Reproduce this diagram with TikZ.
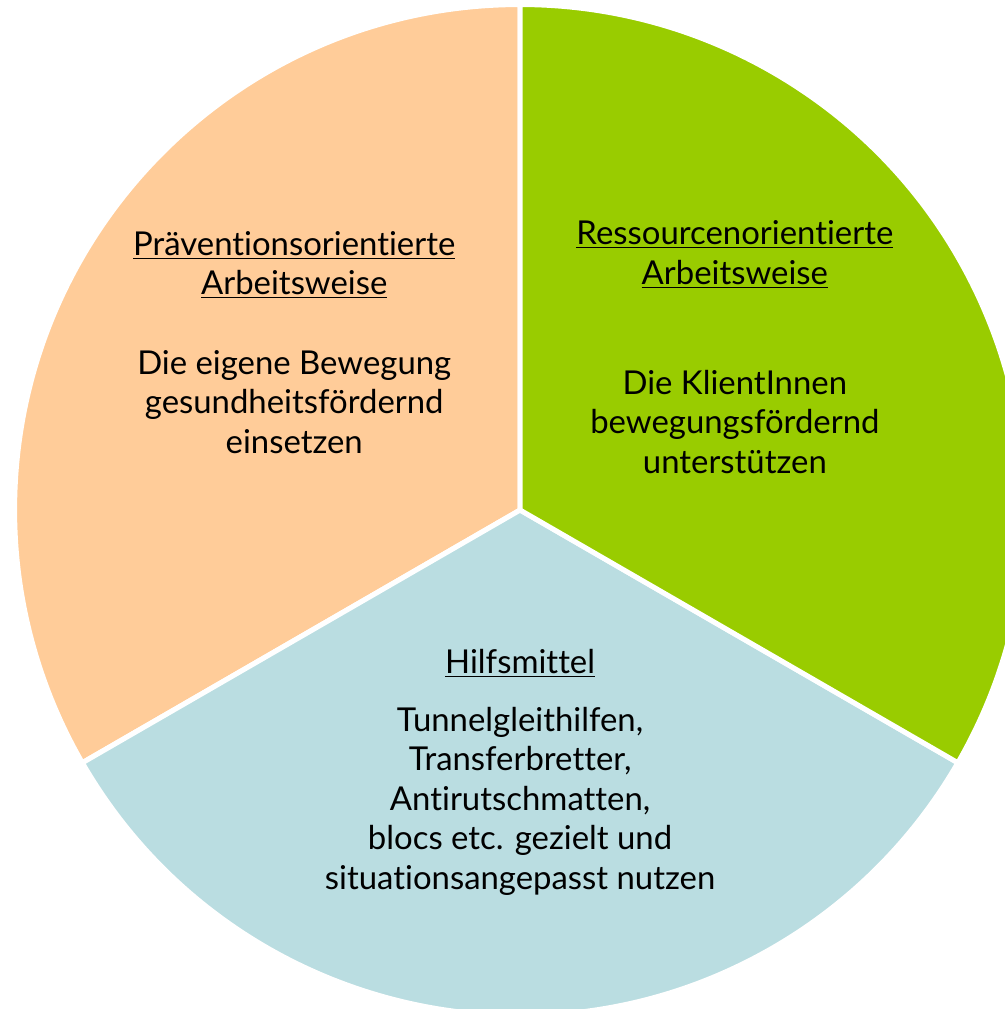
\documentclass[tikz,border=0pt]{standalone}
\usepackage{fontspec}
\setmainfont{Lato}[Ligatures={NoCommon}]
\definecolor{praev}{HTML}{FFCC99}
\definecolor{ressource}{HTML}{99CC00}
\definecolor{hilfe}{HTML}{BADDE1}
\begin{document}
\begin{tikzpicture}
                    \tikzset{
                        slice/.style={draw=white, line width=0.1cm, line join=miter},
                        label/.style={align=center, font=\fontsize{18.6}{22.3}\selectfont}
                    }
                    \useasboundingbox (-10.34,-9.92) rectangle (9.64,10.14);
                    \foreach \a/\col in {%
                        90/praev, 210/hilfe, -30/ressource%
                    }{
                    \draw[slice, fill=\col] (0,0) -- (\a:10.05) arc[start angle=\a, delta angle=120, radius=10.05] -- cycle;
                    }
                    \draw node[label] (praevtitle) at (-4.49,4.87) {\underline{Präventionsorientierte}\\\underline{Arbeitsweise}};
                    \draw node[label] (praevtext) at (-4.49,2.15) {Die eigene Bewegung\\gesundheitsfördernd\\einsetzen};
                    \draw node[label] (restitle) at (4.27,5.08) {\underline{Ressourcenorientierte}\\\underline{Arbeitsweise}};
                    \draw node[label] (restext) at (4.27,1.75) {Die KlientInnen\\bewegungsfördernd\\unterstützen};
                    \draw node[label] (hilftitle) at (0,-3.04) {\underline{Hilfsmittel}};
                    \draw node[label] (hilftext) at (0,-5.79) {Tunnelgleithilfen,\\Transferbretter,\\Antirutschmatten,\\blocs etc. gezielt und\\situationsangepasst nutzen};
\end{tikzpicture}
\end{document}
